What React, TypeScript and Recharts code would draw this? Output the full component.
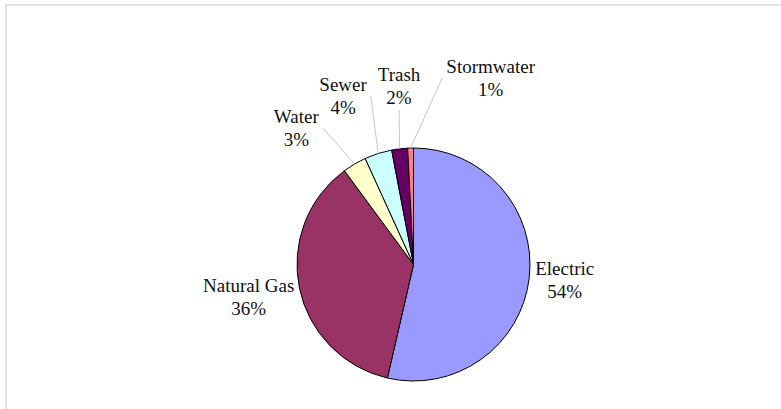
import React from 'react';
import { PieChart, Pie, Cell } from 'recharts';

const categories = ['Electric', 'Natural Gas', 'Water', 'Sewer', 'Trash', 'Stormwater'];
const shares = [53.6, 36.3, 3.3, 3.8, 2.2, 0.8];
const colors = ['#9999FF', '#993366', '#FFFFCC', '#CCFFFF', '#660066', '#FF8080'];

// where each label was dragged to: angle shift from the slice middle, distance from centre
const labelShift = [0.6, -0.5, 10.2, 5.0, -2.2, -23.9];
const labelDist = [152, 168, 180, 183, 179, 202];

const data = categories.map((name, i) => ({ name, value: shares[i] }));

const FONT = '"Liberation Serif", "Times New Roman", serif';
const FONT_SIZE = 19;
const RAD = Math.PI / 180;

let ctx: CanvasRenderingContext2D | null = null;
const textWidth = (s: string) => {
  if (!ctx) ctx = document.createElement('canvas').getContext('2d');
  if (!ctx) return s.length * FONT_SIZE * 0.45;
  ctx.font = `${FONT_SIZE}px "Liberation Serif"`;
  return ctx.measureText(s).width;
};

const renderLabel = (props: any) => {
  const { cx, cy, midAngle, outerRadius, index, percent, name } = props;
  const a = (midAngle + labelShift[index]) * RAD;
  const lx = cx + labelDist[index] * Math.cos(a);
  const ly = cy - labelDist[index] * Math.sin(a);
  const pct = `${Math.round(percent * 100)}%`;

  const sx = cx + outerRadius * Math.cos(midAngle * RAD);
  const sy = cy - outerRadius * Math.sin(midAngle * RAD);
  const hw = Math.max(textWidth(name), textWidth(pct)) / 2 + 4;
  const hh = 24;
  let ex: number;
  let ey: number;
  if (sx >= lx - hw && sx <= lx + hw) {
    ex = lx;
    ey = sy > ly ? ly + hh : ly - hh;
  } else {
    ex = sx > lx ? lx + hw : lx - hw;
    ey = ly;
  }
  const showLine = Math.hypot(ex - sx, ey - sy) > 12;

  return (
    <g key={`lbl-${index}`}>
      {showLine && <line x1={sx} y1={sy} x2={ex} y2={ey} stroke="#c8c8c8" strokeWidth={1} />}
      <text
        x={lx}
        y={ly}
        textAnchor="middle"
        fontFamily={FONT}
        fontSize={FONT_SIZE}
        fill="#111"
      >
        <tspan x={lx} y={ly - 11.5} dominantBaseline="central">{name}</tspan>
        <tspan x={lx} y={ly + 11.5} dominantBaseline="central">{pct}</tspan>
      </text>
    </g>
  );
};

const App = () => {
  return (
    <div style={{ position: 'absolute', left: 0, top: 0, width: 781, height: 409, background: '#fff', overflow: 'hidden' }}>
      <div
        style={{
          position: 'absolute',
          left: 5,
          top: 4,
          width: 800,
          height: 420,
          borderTop: '2px solid #e4e4e4',
          borderLeft: '2px solid #e4e4e4',
        }}
      />
      <PieChart
        width={781}
        height={409}
        margin={{ top: 0, right: 0, bottom: 0, left: 0 }}
        style={{ position: 'absolute', left: 0, top: 0 }}
      >
        <Pie
          data={data}
          dataKey="value"
          nameKey="name"
          cx={413.5}
          cy={264.5}
          outerRadius={116.5}
          startAngle={90}
          endAngle={-270}
          stroke="#000"
          strokeWidth={1}
          label={renderLabel}
          labelLine={false}
          isAnimationActive={false}
        >
          {data.map((d, i) => (
            <Cell key={d.name} fill={colors[i]} />
          ))}
        </Pie>
      </PieChart>
    </div>
  );
};

export default App;
